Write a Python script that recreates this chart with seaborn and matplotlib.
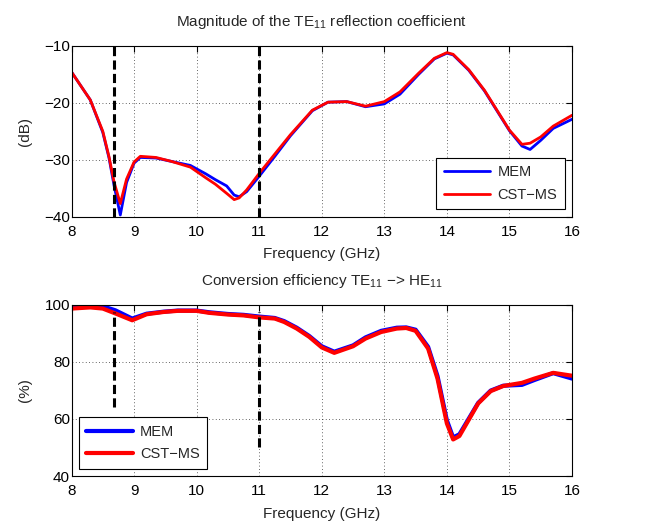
import numpy as np
import pandas as pd
import matplotlib
matplotlib.use("Agg")
import matplotlib.pyplot as plt
import seaborn as sns
from matplotlib.lines import Line2D

# ---------------- data ----------------
freq_top = [8.0, 8.3, 8.5, 8.6, 8.68, 8.78, 8.88, 9.0, 9.1, 9.35, 9.6, 9.9, 10.15, 10.3,
            10.48, 10.6, 10.68, 10.8, 11.0, 11.25, 11.5, 11.85, 12.1, 12.4, 12.7, 13.0,
            13.25, 13.55, 13.8, 14.0, 14.1, 14.35, 14.6, 14.8, 15.0, 15.2, 15.33, 15.5,
            15.7, 16.0]
cst_top = [-14.6, -19.5, -25.0, -29.5, -33.9, -37.7, -33.4, -30.4, -29.4, -29.6, -30.3,
           -31.3, -33.2, -34.3, -35.9, -37.0, -36.7, -35.3, -32.4, -29.0, -25.6, -21.3,
           -19.9, -19.8, -20.6, -19.8, -18.1, -14.8, -12.2, -11.2, -11.5, -14.2, -17.8,
           -21.3, -24.8, -27.3, -27.1, -26.0, -24.1, -22.2]
mem_top = [-14.6, -19.5, -25.2, -29.7, -34.5, -39.7, -34.0, -30.6, -29.6, -29.7, -30.3,
           -31.0, -32.5, -33.5, -34.6, -36.2, -36.5, -35.6, -32.9, -29.4, -25.8, -21.4,
           -19.9, -19.8, -20.7, -20.2, -18.5, -15.0, -12.3, -11.3, -11.6, -14.3, -17.9,
           -21.4, -24.9, -27.6, -28.2, -26.6, -24.5, -22.9]

freq_bot = [8.0, 8.3, 8.5, 8.7, 8.97, 9.2, 9.47, 9.7, 10.0, 10.2, 10.5, 10.75, 11.0, 11.25,
            11.4, 11.6, 11.8, 12.0, 12.2, 12.5, 12.7, 12.95, 13.2, 13.35, 13.5, 13.7, 13.85,
            14.0, 14.1, 14.2, 14.5, 14.7, 14.9, 15.2, 15.4, 15.7, 16.0]
cst_bot = [98.6, 99.0, 98.6, 96.9, 94.5, 96.6, 97.4, 97.8, 97.8, 97.1, 96.5, 96.2, 95.5,
           95.1, 93.9, 91.6, 88.7, 85.0, 83.1, 85.4, 88.1, 90.4, 91.6, 91.8, 90.8, 84.6,
           74.1, 58.4, 52.8, 54.0, 65.4, 69.7, 71.5, 72.6, 74.1, 76.1, 75.1]
mem_bot = [99.2, 99.5, 99.4, 98.0, 95.1, 96.8, 97.5, 97.9, 97.9, 97.3, 96.7, 96.4, 95.8,
           95.3, 94.2, 91.9, 89.0, 85.4, 83.5, 85.7, 88.5, 90.8, 91.9, 92.0, 91.2, 85.2,
           75.0, 59.5, 53.5, 54.6, 65.6, 69.9, 71.6, 71.9, 73.6, 76.0, 74.1]

band_edges = [8.68, 11.0]
band_bot_low = [64.0, 50.0]
band_bot_high = 97.5
series_names = ["MEM", "CST\u2212MS"]
series_colors = ["#0000ff", "#ff0000"]

xticks = [8, 9, 10, 11, 12, 13, 14, 15, 16]
yticks_top = [-40, -30, -20, -10]
yticks_bot = [40, 60, 80, 100]

# ---------------- style ----------------
sns.set_theme(style="white")
plt.rcParams["font.family"] = ["Liberation Sans", "DejaVu Sans"]
plt.rcParams["mathtext.default"] = "regular"
plt.rcParams["font.size"] = 10.5

fig = plt.figure(figsize=(6.5, 5.26), dpi=100)
ax1 = fig.add_axes([0.110, 0.588, 0.770, 0.325])
ax2 = fig.add_axes([0.110, 0.095, 0.770, 0.326])

palette = dict(zip(series_names, series_colors))
dash = (0, (3, 1.4))


def long_df(freq, mem, cst):
    return pd.concat([
        pd.DataFrame({"f": freq, "v": mem, "s": series_names[0]}),
        pd.DataFrame({"f": freq, "v": cst, "s": series_names[1]}),
    ], ignore_index=True)


def style_axes(ax, yticks, ylim, ylabel, title):
    ax.set_xlim(8, 16)
    ax.set_ylim(*ylim)
    ax.set_xticks(xticks)
    ax.set_yticks(yticks)
    ax.grid(True, linestyle=(0, (1, 3)), color="black", linewidth=0.6, alpha=0.8)
    ax.tick_params(direction="in", length=4, width=0.8, top=True, right=True,
                   labelsize=11, colors="black")
    ax.tick_params(axis="x", pad=6)
    ax.tick_params(axis="y", pad=1)
    for sp in ax.spines.values():
        sp.set_color("black")
        sp.set_linewidth(0.8)
    ax.set_xlabel("Frequency (GHz)", fontsize=11, labelpad=6)
    ax.set_ylabel(ylabel, fontsize=11, labelpad=9)
    ax.set_title(title, fontsize=11, pad=14)


def add_legend(ax, loc, lw):
    handles = [Line2D([], [], color=c, linewidth=lw) for c in series_colors]
    leg = ax.legend(handles, series_names, loc=loc, fontsize=10.5, frameon=True,
                    fancybox=False, edgecolor="black", framealpha=1,
                    borderaxespad=0.5, handlelength=3.2, borderpad=0.5,
                    labelspacing=0.6, handletextpad=0.5)
    leg.get_frame().set_linewidth(0.8)
    leg.set_zorder(5)


# top panel
df1 = long_df(freq_top, mem_top, cst_top)
sns.lineplot(data=df1, x="f", y="v", hue="s", palette=palette, ax=ax1,
             linewidth=2.0, sort=False, legend=False)
for xe in band_edges:
    ax1.plot([xe, xe], [-40, -10], color="black", linewidth=2.2,
             linestyle=dash, zorder=3)
style_axes(ax1, yticks_top, (-40, -10), "(dB)",
           "Magnitude of the TE$_{11}$ reflection coefficient")
add_legend(ax1, "lower right", 2.0)

# bottom panel
df2 = long_df(freq_bot, mem_bot, cst_bot)
sns.lineplot(data=df2, x="f", y="v", hue="s", palette=palette, ax=ax2,
             linewidth=3.0, sort=False, legend=False)
for xe, lo in zip(band_edges, band_bot_low):
    ax2.plot([xe, xe], [lo, band_bot_high], color="black", linewidth=2.2,
             linestyle=dash, zorder=3)
style_axes(ax2, yticks_bot, (40, 100), "(%)",
           "Conversion efficiency TE$_{11}$ \u2212> HE$_{11}$")
add_legend(ax2, "lower left", 3.0)

fig.savefig("out.png", dpi=100, facecolor="white")
